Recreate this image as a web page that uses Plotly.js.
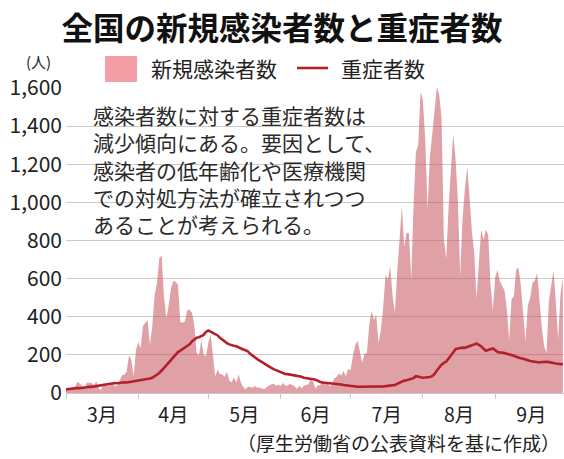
<!DOCTYPE html>
<html>
<head>
<meta charset="utf-8">
<script src="https://cdn.plot.ly/plotly-3.0.1.min.js"></script>
<style>
html,body{margin:0;padding:0;background:#fff;}
#chart{width:564px;height:459px;}
</style>
</head>
<body>
<div id="chart"></div>
<script>
// 新規感染者数 (daily new cases), 2020-03-01 .. 2020-09-30
const casesMar = [14,15,19,33,34,59,47,33,26,55,54,52,41,62,25,15,44,39,36,43,53,37,38,65,93,96,112,200,173,87,225];
const casesApr = [266,235,353,367,383,252,351,515,576,708,720,507,392,457,549,587,584,568,373,369,375,437,437,421,356,212,195,278,201,193];
const casesMay = [263,308,204,87,123,100,99,85,110,65,55,82,55,99,54,32,20,33,31,27,37,28,30,22,21,33,40,45,48,38,44];
const casesJun = [37,52,40,40,48,40,35,21,38,23,40,41,47,72,58,24,41,40,68,45,57,36,45,78,84,104,92,116,88,127];
const casesJul = [120,195,250,274,209,159,207,210,355,430,384,409,260,333,449,622,595,664,510,420,632,795,981,767,841,839,598,981,1264,1300,1580];
const casesAug = [1536,1331,964,1237,1356,1485,1605,1565,1442,811,700,970,1176,1360,1232,1010,614,914,1070,1185,1034,849,738,494,679,858,803,856,830,568,432];
const casesSep = [607,646,586,561,538,438,276,493,508,648,658,563,437,271,460,499,579,590,630,480,343,244,210,481,555,644,475,282,519,606];

// 重症者数 (severe cases)
const sevMar = [19,21,20,23,24,26,25,28,29,31,33,32,34,36,38,41,42,44,45,48,50,52,51,53,55,56,55,57,58,58,60];
const sevApr = [62,64,66,68,72,76,80,88,96,105,118,132,148,165,178,190,203,215,222,230,237,243,255,270,282,290,293,297,305,320];
const sevMay = [328,322,316,312,302,290,280,270,262,255,250,248,245,238,232,228,224,218,205,195,186,178,170,162,152,145,140,132,125,120,114];
const sevJun = [108,104,100,99,97,95,92,90,88,85,80,77,76,74,72,70,63,58,55,54,53,52,51,51,50,48,45,42,40,38];
const sevJul = [36,35,34,33,33,33,32,33,33,33,32,33,34,34,35,36,37,38,40,42,48,55,60,65,67,70,72,78,88,84,80];
const sevAug = [80,81,82,84,88,100,118,135,148,158,165,180,195,212,230,233,236,238,237,240,245,250,255,259,252,245,232,222,226,232,234];
const sevSep = [225,215,213,212,210,206,203,200,195,190,185,182,180,178,172,168,166,163,160,160,163,165,164,162,158,157,155,152,151,150];

const months = ['03','04','05','06','07','08','09'];
const yTicks = [0,200,400,600,800,1000,1200,1400,1600];

const casesByMonth = [casesMar,casesApr,casesMay,casesJun,casesJul,casesAug,casesSep];
const sevByMonth = [sevMar,sevApr,sevMay,sevJun,sevJul,sevAug,sevSep];

const dates = [], cases = [], severe = [];
months.forEach((m, i) => {
  casesByMonth[i].forEach((v, d) => {
    const dd = String(d + 1).padStart(2, '0');
    dates.push('2020-' + m + '-' + dd);
    cases.push(v);
    severe.push(sevByMonth[i][d]);
  });
});

const FONT = '"Noto Sans CJK JP", "Noto Sans", sans-serif';
const W = 564, H = 459, L = 66, R = 0, T = 88, B = 66;
const pw = W - L - R, ph = H - T - B;
const px = x => (x - L) / pw;
const py = y => (H - B - y) / ph;

const traces = [
  {
    x: dates, y: cases, type: 'scatter', mode: 'lines', name: '新規感染者数',
    fill: 'tozeroy', fillcolor: 'rgba(197,82,93,0.55)',
    line: {width: 0, color: 'rgba(197,82,93,0.55)'}, hoverinfo: 'skip', showlegend: false
  },
  {
    x: dates, y: severe, type: 'scatter', mode: 'lines', name: '重症者数',
    line: {width: 2.6, color: '#b3202b'}, showlegend: false
  }
];

const layout = {
  width: W, height: H,
  margin: {l: L, r: R, t: T, b: B},
  paper_bgcolor: '#fff', plot_bgcolor: '#fff',
  font: {family: FONT, color: '#222'},
  title: {
    text: '<b>全国の新規感染者数と重症者数</b>',
    font: {family: FONT, size: 31.5, color: '#111'},
    x: 0.5, xanchor: 'center', xref: 'container',
    y: 1 - 29 / H, yanchor: 'middle', yref: 'container'
  },
  xaxis: {
    type: 'date',
    range: ['2020-03-01', '2020-09-30 12:00'],
    dtick: 'M1', tick0: '2020-03-01',
    ticklabelmode: 'period', tickformat: '%-m月',
    ticks: 'outside', ticklen: 5, tickcolor: '#c8c8c8', tickwidth: 1,
    showline: true, linecolor: '#c8c8c8', linewidth: 1,
    showgrid: false, zeroline: false,
    tickfont: {family: FONT, size: 19.5, color: '#222'}
  },
  yaxis: {
    range: [0, 1600], tickvals: yTicks, tickformat: ',',
    showgrid: true, gridcolor: '#cbcbcb', gridwidth: 1,
    zeroline: false, showline: false, ticks: '',
    tickfont: {family: FONT, size: 21, color: '#222'},
    ticklabelstandoff: 3
  },
  shapes: [
    {type: 'rect', xref: 'paper', yref: 'paper',
     x0: px(105), x1: px(137), y0: py(82), y1: py(56),
     fillcolor: 'rgb(244,158,166)', line: {width: 0}},
    {type: 'line', xref: 'paper', yref: 'paper',
     x0: px(297), x1: px(328), y0: py(68), y1: py(68),
     line: {color: '#b3202b', width: 2.6}}
  ],
  annotations: [
    {text: '新規感染者数', xref: 'paper', yref: 'paper', x: px(149), y: py(68),
     xanchor: 'left', yanchor: 'middle', showarrow: false,
     font: {family: FONT, size: 21, color: '#222'}},
    {text: '重症者数', xref: 'paper', yref: 'paper', x: px(339), y: py(68),
     xanchor: 'left', yanchor: 'middle', showarrow: false,
     font: {family: FONT, size: 21, color: '#222'}},
    {text: '(人)', xref: 'paper', yref: 'paper', x: px(24), y: py(62),
     xanchor: 'left', yanchor: 'middle', showarrow: false,
     font: {family: FONT, size: 15, color: '#222'}},
    {text: '感染者数に対する重症者数は<br>減少傾向にある。要因として、<br>感染者の低年齢化や医療機関<br>での対処方法が確立されつつ<br>あることが考えられる。',
     xref: 'paper', yref: 'paper', x: px(91), y: py(98),
     xanchor: 'left', yanchor: 'top', align: 'left', showarrow: false,
     font: {family: FONT, size: 21, color: '#2a2a2a'}},
    {text: '（厚生労働省の公表資料を基に作成）', xref: 'paper', yref: 'paper',
     x: px(562), y: py(442), xanchor: 'right', yanchor: 'middle', showarrow: false,
     font: {family: FONT, size: 19, color: '#222'}}
  ]
};

Plotly.newPlot('chart', traces, layout, {staticPlot: true, displayModeBar: false});
</script>
</body>
</html>
